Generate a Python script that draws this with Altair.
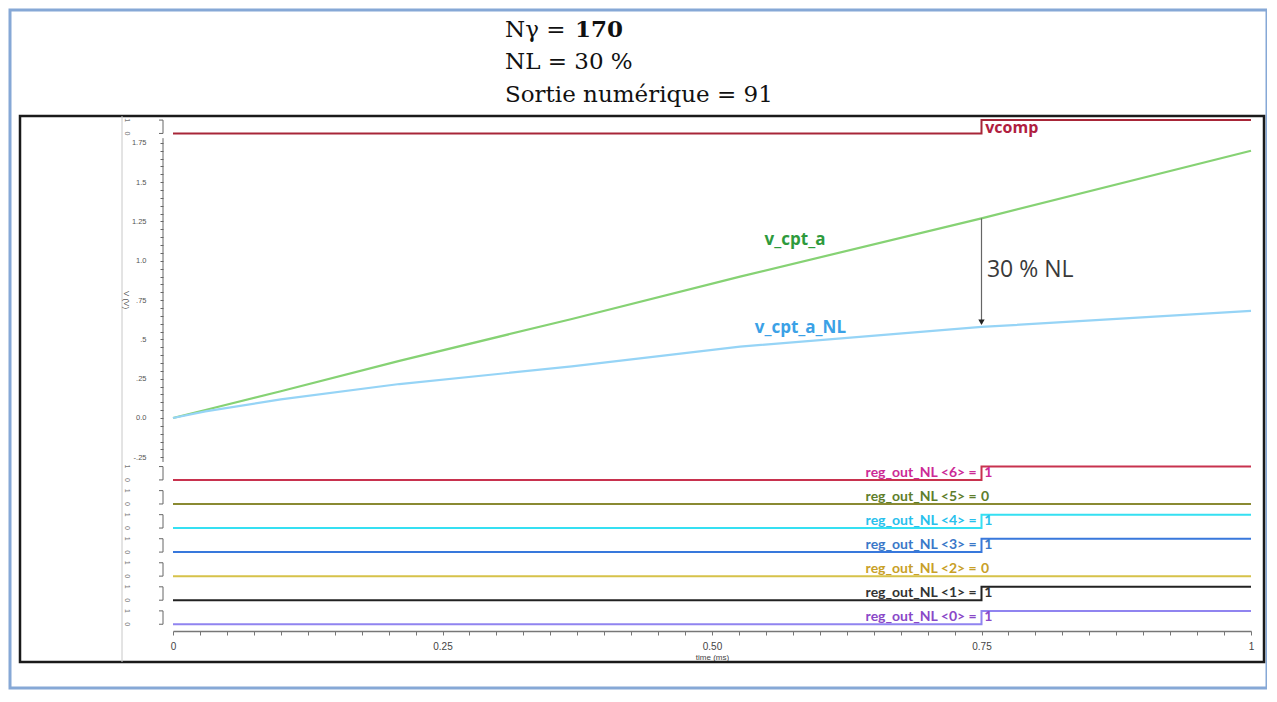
import altair as alt
import pandas as pd

# ---------------- data ----------------
T_CPT = [0.0, 0.03, 0.10, 0.21, 0.37, 0.526, 0.75, 1.0]
V_CPT_A = [0.0, 0.051, 0.17, 0.363, 0.63, 0.899, 1.27, 1.70]
V_CPT_A_NL = [0.0, 0.042, 0.118, 0.216, 0.328, 0.454, 0.579, 0.681]

STEP_TIMES = [0.0, 0.75, 1.0]
VCOMP_BITS = [0, 1, 1]
REG_NAMES = ["reg_out_NL <6>", "reg_out_NL <5>", "reg_out_NL <4>", "reg_out_NL <3>",
             "reg_out_NL <2>", "reg_out_NL <1>", "reg_out_NL <0>"]
REG_BITS = [1, 0, 1, 1, 0, 1, 1]

Y_TICKS = [1.75, 1.5, 1.25, 1.0, 0.75, 0.5, 0.25, 0.0, -0.25]
Y_TICK_LABELS = ["1.75", "1.5", "1.25", "1.0", ".75", ".5", ".25", "0.0", "-.25"]
X_TICKS = [0.0, 0.25, 0.5, 0.75, 1.0]
X_TICK_LABELS = ["0", "0.25", "0.50", "0.75", "1"]

TITLE_NG = ["Nγ =", "170"]
TITLE_LINES = ["NL = 30 %", "Sortie numérique = 91"]

# ---------------- layout / style ----------------
W, H = 1078, 515
VCOMP_LOW = 1.81
BIT_AMP = 0.085
LANE_TOP_LOW = -0.394
LANE_STEP = 0.153
REG_LINE_COLORS = ["#c8324e", "#8a8a32", "#35e0f2", "#3878dc", "#d6c24a", "#222222", "#9084f0"]
REG_TEXT_COLORS = ["#cc2a96", "#5e7e2c", "#28c0ec", "#3a78c8", "#c8a028", "#333333", "#8a48c8"]

XS = alt.Scale(domain=[0, 1], nice=False, zero=False)
YS = alt.Scale(domain=[-1.355, 1.921], nice=False, zero=False)


def expr_map(vals, labels):
    parts = [f"datum.value == {v} ? '{l}'" for v, l in zip(vals, labels)]
    return " : ".join(parts) + " : ''"


x_minor = [round(0.025 * i, 3) for i in range(41)]
y_minor = [round(-0.25 + 0.05 * i, 2) for i in range(41)]

X_AXIS = alt.Axis(
    values=x_minor, labelExpr=expr_map(X_TICKS, X_TICK_LABELS), title="time (ms)",
    domainColor="#777", domainWidth=1.5, tickColor="#777", tickSize=4, grid=False,
    labelFontSize=10, labelColor="#444", labelPadding=6, labelFlush=False, labelOverlap=False,
    labelFont="Liberation Sans", titleFont="Liberation Sans", titleFontSize=8,
    titleFontWeight="normal", titleColor="#444", titlePadding=2)
Y_AXIS = alt.Axis(
    values=y_minor, labelExpr=expr_map(Y_TICKS, Y_TICK_LABELS), title="",
    offset=10, domain=False, tickColor="#666", tickSize=3, grid=False,
    labelFontSize=7.5, labelColor="#555", labelPadding=14, labelOverlap=False,
    labelFont="Liberation Sans")


def xe(field="t"):
    return alt.X(f"{field}:Q", scale=XS, axis=X_AXIS)


def ye(field="v"):
    return alt.Y(f"{field}:Q", scale=YS, axis=Y_AXIS)


dummy = pd.DataFrame({"k": [0]})
layers = []

# frames
layers.append(alt.Chart(dummy).mark_rect(fill="transparent", stroke="#86a8d6", strokeWidth=3).encode(
    x=alt.value(-163), x2=alt.value(W + 16), y=alt.value(-106), y2=alt.value(H + 57)))
layers.append(alt.Chart(dummy).mark_rect(fill="transparent", stroke="#1a1a1a", strokeWidth=2.5).encode(
    x=alt.value(-153), x2=alt.value(W + 13), y=alt.value(0), y2=alt.value(H + 31)))
layers.append(alt.Chart(dummy).mark_rule(color="#c8c8c8", strokeWidth=1).encode(
    x=alt.value(-51), y=alt.value(0), y2=alt.value(H + 31)))

# analog lines
analog = pd.DataFrame({
    "t": T_CPT + T_CPT,
    "v": V_CPT_A + V_CPT_A_NL,
    "series": ["v_cpt_a"] * len(T_CPT) + ["v_cpt_a_NL"] * len(T_CPT),
})
layers.append(alt.Chart(analog).mark_line(strokeWidth=2.2).encode(
    x=xe(), y=ye(),
    color=alt.Color("series:N", scale=alt.Scale(domain=["v_cpt_a", "v_cpt_a_NL"],
                                                range=["#86d274", "#96d4f6"]), legend=None),
))

# y ruler for the analog section
ruler = pd.DataFrame({"v": [min(Y_TICKS) - 0.03], "hi": [max(Y_TICKS) + 0.03]})
layers.append(alt.Chart(ruler).mark_rule(color="#666", strokeWidth=1).encode(
    x=alt.value(-10), y=ye("v"), y2="hi:Q"))
layers.append(alt.Chart(dummy).mark_text(fontSize=8, angle=90, color="#555", font="Liberation Sans").encode(
    x=alt.value(-47), y=alt.value(184), text=alt.value("V (V)")))

# vcomp
vcomp = pd.DataFrame({"t": STEP_TIMES, "v": [VCOMP_LOW + b * BIT_AMP for b in VCOMP_BITS]})
layers.append(alt.Chart(vcomp).mark_line(interpolate="step-after", color="#a82638", strokeWidth=2).encode(
    x=xe(), y=ye()))

# digital lanes
lane_lo = [LANE_TOP_LOW - i * LANE_STEP for i in range(len(REG_NAMES))]
for i, (name, bit) in enumerate(zip(REG_NAMES, REG_BITS)):
    d = pd.DataFrame({"t": STEP_TIMES, "v": [lane_lo[i] + b * BIT_AMP for b in [0, bit, bit]]})
    layers.append(alt.Chart(d).mark_line(interpolate="step-after", color=REG_LINE_COLORS[i],
                                         strokeWidth=2).encode(x=xe(), y=ye()))
    lab = pd.DataFrame({"t": [0.7455], "v": [lane_lo[i]], "text": [name + " ="]})
    layers.append(alt.Chart(lab).mark_text(align="right", baseline="alphabetic", dy=-3, fontSize=14,
                                           fontWeight="bold", font="Lato", color=REG_TEXT_COLORS[i]).encode(
        x=xe(), y=ye(), text="text:N"))
    val = pd.DataFrame({"t": [0.7525 if bit else 0.7495], "v": [lane_lo[i]], "text": [str(bit)]})
    layers.append(alt.Chart(val).mark_text(align="left", baseline="alphabetic", dy=-3, fontSize=14,
                                           fontWeight="bold", font="Lato", color=REG_TEXT_COLORS[i]).encode(
        x=xe(), y=ye(), text="text:N"))

# lane brackets and 1/0 markers
all_lo = [VCOMP_LOW] + lane_lo
brackets = pd.DataFrame({"v": all_lo, "hi": [l + BIT_AMP for l in all_lo]})
layers.append(alt.Chart(brackets).mark_rule(color="#666", strokeWidth=1).encode(
    x=alt.value(-10), y=ye("v"), y2="hi:Q"))
layers.append(alt.Chart(brackets).mark_rule(color="#666", strokeWidth=1).encode(
    x=alt.value(-14), x2=alt.value(-10), y=ye("v")))
layers.append(alt.Chart(brackets).mark_rule(color="#666", strokeWidth=1).encode(
    x=alt.value(-14), x2=alt.value(-10), y=ye("hi")))
marks01 = pd.DataFrame({"v": all_lo + [l + BIT_AMP for l in all_lo],
                        "text": ["0"] * len(all_lo) + ["1"] * len(all_lo)})
layers.append(alt.Chart(marks01).mark_text(fontSize=7, angle=90, color="#777", font="Liberation Sans").encode(
    x=alt.value(-46), y=ye(), text="text:N"))


# series labels
def label(t, v, text, color, size, weight="bold", align="center", font="Open Sans"):
    df = pd.DataFrame({"t": [t], "v": [v], "text": [text]})
    return alt.Chart(df).mark_text(align=align, baseline="middle", fontSize=size, fontWeight=weight,
                                   font=font, color=color).encode(x=xe(), y=ye(), text="text:N")


layers.append(label(0.577, 1.13, "v_cpt_a", "#2e9a3c", 17))
layers.append(label(0.582, 0.573, "v_cpt_a_NL", "#3ba1e6", 17))
layers.append(label(0.7535, 1.845, "vcomp", "#b0203f", 16, align="left"))
layers.append(label(0.755, 0.94, "30 % NL", "#3a3a3a", 23, weight="normal", align="left"))

# arrow showing non-linearity
i75 = T_CPT.index(0.75)
arrow = pd.DataFrame({"t": [0.75], "v": [V_CPT_A[i75]], "v2": [V_CPT_A_NL[i75] + 0.02]})
layers.append(alt.Chart(arrow).mark_rule(color="#666", strokeWidth=1.2).encode(
    x=xe(), y=ye(), y2="v2:Q"))
tip = pd.DataFrame({"t": [0.75], "v": [V_CPT_A_NL[i75] + 0.03]})
layers.append(alt.Chart(tip).mark_point(shape="triangle-down", filled=True, size=40, color="#222",
                                        opacity=1).encode(x=xe(), y=ye()))

# header text
layers.append(alt.Chart(dummy).mark_text(align="left", baseline="middle", fontSize=23, font="DejaVu Serif",
                                         color="#111").encode(
    x=alt.value(332), y=alt.value(-86), text=alt.value(TITLE_NG[0])))
layers.append(alt.Chart(dummy).mark_text(align="left", baseline="middle", fontSize=23, font="DejaVu Serif",
                                         fontWeight="bold", color="#111").encode(
    x=alt.value(402), y=alt.value(-86), text=alt.value(TITLE_NG[1])))
for j, line in enumerate(TITLE_LINES):
    layers.append(alt.Chart(dummy).mark_text(align="left", baseline="middle", fontSize=23,
                                             font="DejaVu Serif", color="#111").encode(
        x=alt.value(332), y=alt.value(-54 + 33 * j), text=alt.value(line)))

chart = alt.layer(*layers).properties(
    width=W, height=H,
    autosize=alt.AutoSizeParams(type="none"),
    padding={"left": 165, "top": 108, "right": 16, "bottom": 60},
    background="white",
).configure_view(stroke="transparent")

chart.save("out.html", embed_options={"renderer": "svg", "actions": False})
